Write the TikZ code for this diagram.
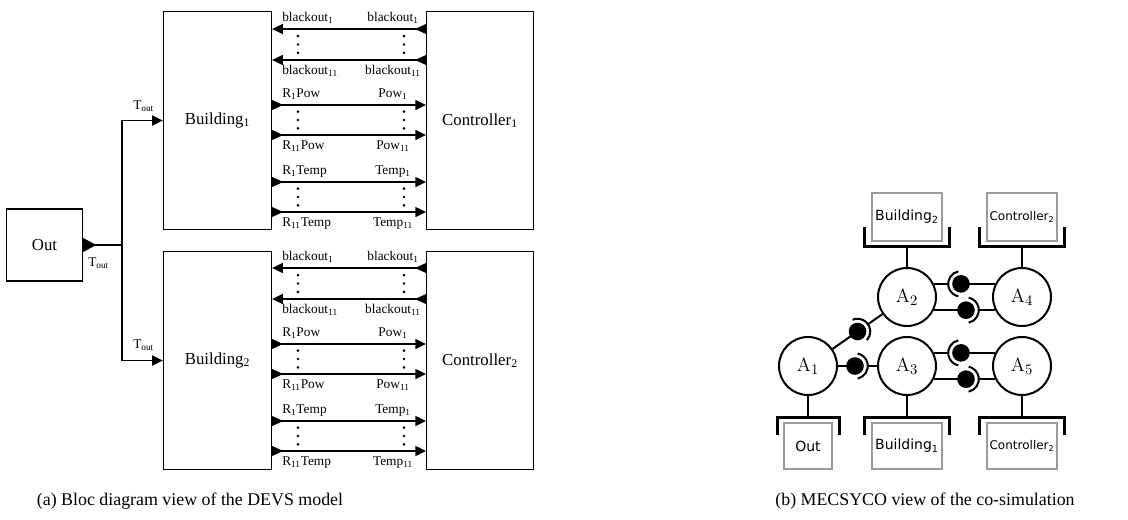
\documentclass[tikz,border=0pt]{standalone}
\usepackage[no-math]{fontspec}
\setmainfont{Liberation Serif}
\newfontfamily\guifont{DejaVu Sans}
\usetikzlibrary{arrows.meta,calc}
\definecolor{boxgray}{RGB}{155,155,155}

% ball-and-socket coupling: ball at #1, socket opening towards angle #2
\newcommand\sockat[2]{%
  \fill (#1) circle[radius=6.6pt];
  \draw[line width=1.5pt] (#1) ++({#2-78}:9.6pt) arc[start angle={#2-78}, end angle={#2+78}, radius=9.6pt];
}

\begin{document}
\begin{tikzpicture}[x=0.75pt,y=-0.75pt,
  >={Triangle[length=8pt,width=7.5pt]},
  ln/.style={line width=1pt},
  blk/.style={draw,line width=1pt,inner sep=0pt,font=\fontsize{12.6}{15}\selectfont},
  lbl/.style={inner sep=0pt,font=\fontsize{10}{12}\selectfont},
  portr/.pic={\fill (0,-5) -- (11,0) -- (0,5) -- cycle;},
  portl/.pic={\fill (0,-5) -- (-11,0) -- (0,5) -- cycle;},
  outport/.pic={\fill (0,-7) -- (13,0) -- (0,7) -- cycle;},
  agent/.style={circle,draw,fill=white,line width=1.5pt,minimum size=43.5pt,inner sep=0pt,font=\fontsize{15}{18}\selectfont},
  gbox/.style={draw=boxgray,line width=1.5pt,minimum height=36pt,minimum width=53pt,inner sep=0pt,font=\guifont\fontsize{10.5}{12}\selectfont},
  gsmall/.style={font=\guifont\fontsize{9}{11}\selectfont},
  brk/.style={line width=2.25pt},
  wire/.style={line width=1.5pt},
  captext/.style={font=\fontsize{13.4}{16}\selectfont,anchor=base,inner sep=0pt},
]
\useasboundingbox (0,0) rectangle (1128,519);

% ---------------- DEVS bloc diagram ----------------
\node[blk,minimum width=57pt,minimum height=54pt] (out) at (44.5,245) {Out};
\node[blk,minimum width=81pt,minimum height=163.5pt] (b1) at (217.5,120.5) {Building\textsubscript{1}};
\node[blk,minimum width=81pt,minimum height=163.5pt] (b2) at (217.5,360.5) {Building\textsubscript{2}};
\node[blk,minimum width=80pt,minimum height=163.5pt] (c1) at (480,120.5) {Controller\textsubscript{1}};
\node[blk,minimum width=80pt,minimum height=163.5pt] (c2) at (480,360.5) {Controller\textsubscript{2}};

% T_out fan-out
\coordinate (jn) at (122,245);
\draw[ln] (out.east) -- (jn);
\pic at (out.east) {outport};
\draw[ln,->] (jn) |- (b1.west);
\draw[ln,->] (jn) |- (b2.west);
\node[lbl,anchor=base west] (tout0) at (88,266) {T\textsubscript{out}};
\node[lbl,anchor=base west] (tout1) at (133,109) {T\textsubscript{out}};
\node[lbl,anchor=base west] (tout2) at (133,348) {T\textsubscript{out}};

\foreach \off/\bn/\cn in {0/b1/c1,239/b2/c2}{
  % blackout links: controller -> building
  \foreach \yy in {29,60}{
    \pgfmathsetmacro\Y{\yy+\off}
    \draw[ln,->] (\cn.west |- 0,\Y) -- (\bn.east |- 0,\Y);
    \pic at (\cn.west |- 0,\Y) {portl};
  }
  % power and temperature links: building -> controller
  \foreach \yy in {105,135,182,212}{
    \pgfmathsetmacro\Y{\yy+\off}
    \draw[ln,->] (\bn.east |- 0,\Y) -- (\cn.west |- 0,\Y);
    \pic at (\bn.east |- 0,\Y) {portr};
  }
  % elided ports
  \foreach \yy in {44.5,120,197}{
    \foreach \dx in {298,404}{
      \foreach \dy in {-8.3,0,8.3}{
        \fill (\dx,\yy+\off+\dy) circle[radius=1.1pt];
      }
    }
  }
  % port names
  \foreach \yy/\lt/\rt/\k in {
      21/{blackout\textsubscript{1}}/{blackout\textsubscript{1}}/a,
      74/{blackout\textsubscript{11}}/{blackout\textsubscript{11}}/b,
      97/{R\textsubscript{1}Pow}/{Pow\textsubscript{1}}/c,
      149/{R\textsubscript{11}Pow}/{Pow\textsubscript{11}}/d,
      174/{R\textsubscript{1}Temp}/{Temp\textsubscript{1}}/e,
      226/{R\textsubscript{11}Temp}/{Temp\textsubscript{11}}/f}{
    \pgfmathsetmacro\Y{\yy+\off}
    \node[lbl,anchor=base west] (\bn-\k) at (282,\Y) {\lt};
    \node[lbl,anchor=base] (\cn-\k) at (393,\Y) {\rt};
  }
}

% ---------------- MECSYCO view ----------------
\node[agent] (A1) at (808,366) {$\mathrm{A}_1$};
\node[agent] (A2) at (907,297) {$\mathrm{A}_2$};
\node[agent] (A3) at (907,366) {$\mathrm{A}_3$};
\node[agent] (A4) at (1022,297) {$\mathrm{A}_4$};
\node[agent] (A5) at (1022,366) {$\mathrm{A}_5$};

\node[gbox] (g2) at (907,217) {Building\textsubscript{2}};
\node[gbox,gsmall] (g4) at (1022,217) {Controller\textsubscript{2}};
\node[gbox,minimum width=36pt,minimum height=34.5pt] (g1) at (808,446) {Out};
\node[gbox,minimum height=34.5pt] (g3) at (907,446) {Building\textsubscript{1}};
\node[gbox,gsmall,minimum height=34.5pt] (g5) at (1022,446) {Controller\textsubscript{2}};

% artifact brackets
\foreach \g in {g2,g4}{
  \draw[brk] ([xshift=-4.5pt,yshift=11.25pt]\g.south west) |- ([yshift=-3pt]\g.south)
    -| ([xshift=4.5pt,yshift=11.25pt]\g.south east);
}
\foreach \g in {g1,g3,g5}{
  \draw[brk] ([xshift=-4.5pt,yshift=-9.75pt]\g.north west) |- ([yshift=3.75pt]\g.north)
    -| ([xshift=4.5pt,yshift=-9.75pt]\g.north east);
}
\draw[wire] (A2) -- ([yshift=-3pt]g2.south);
\draw[wire] (A4) -- ([yshift=-3pt]g4.south);
\draw[wire] (A1) -- ([yshift=3.75pt]g1.north);
\draw[wire] (A3) -- ([yshift=3.75pt]g3.north);
\draw[wire] (A5) -- ([yshift=3.75pt]g5.north);

% couplings
\coordinate (k12) at ($(A1)!0.5!(A2)$);
\draw[wire] (A1) -- (k12);
\draw[wire] ($(k12)!9.6pt!(A2)$) -- (A2);
\sockat{k12}{35}

\coordinate (k13) at (855,366);
\draw[wire] (A1) -- (k13);
\draw[wire] ([xshift=9.6pt]k13) -- (A3);
\sockat{k13}{0}

\coordinate (k24a) at (A2.26 -| 961,0);
\draw[wire] (A4.154) -- (k24a);
\draw[wire] (A2.26) -- ([xshift=-9.6pt]k24a);
\sockat{k24a}{180}
\coordinate (k24b) at (A2.-26 -| 966,0);
\draw[wire] (A2.-26) -- (k24b);
\draw[wire] ([xshift=9.6pt]k24b) -- (A4.206);
\sockat{k24b}{0}

\coordinate (k35a) at (A3.26 -| 961,0);
\draw[wire] (A5.154) -- (k35a);
\draw[wire] (A3.26) -- ([xshift=-9.6pt]k35a);
\sockat{k35a}{180}
\coordinate (k35b) at (A3.-26 -| 966,0);
\draw[wire] (A3.-26) -- (k35b);
\draw[wire] ([xshift=9.6pt]k35b) -- (A5.206);
\sockat{k35b}{0}

% captions
\node[captext] (capa) at (190,505) {(a) Bloc diagram view of the DEVS model};
\node[captext] (capb) at (925,505) {(b) MECSYCO view of the co-simulation};
\end{tikzpicture}
\end{document}
